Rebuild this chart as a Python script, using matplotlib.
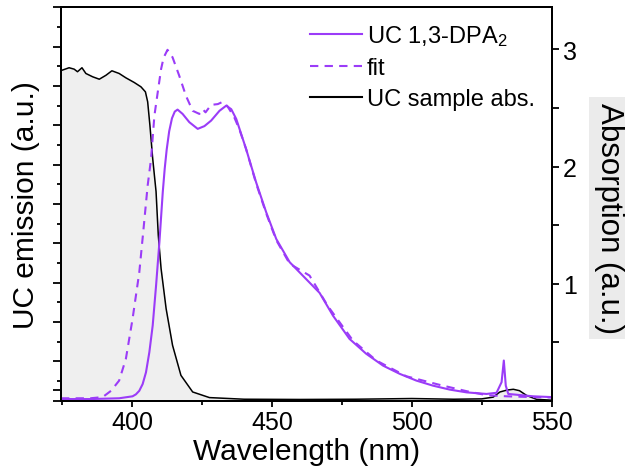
"""UC emission and absorption spectrum, redrawn."""

import matplotlib

matplotlib.use("Agg")
import matplotlib.pyplot as plt
from matplotlib.lines import Line2D

plt.rcParams["font.family"] = ["Liberation Sans", "DejaVu Sans"]
plt.rcParams["mathtext.default"] = "regular"

PURPLE = "#9b3cf8"

# UC emission (normalised, left axis)
em_wl = [374.5, 385, 395.3, 400.1, 401.3, 402.5, 403.7, 404.9, 406.1, 407.3,
         408.5, 409.7, 410.9, 411.6, 412.3, 413.2, 414.2, 415.2, 416.2, 418.0,
         420.4, 423.4, 425.8, 428.2, 431.2, 433.6, 435.4, 437.2, 440.7, 444.3,
         447.9, 451.5, 456.3, 462.2, 467.0, 471.8, 477.7, 483.7, 489.7, 495.7,
         501.6, 507.6, 513.6, 519.6, 526.7, 530.3, 532.1, 532.9, 533.6, 534.5,
         543.4, 550.0]
em_val = [0.004, 0.004, 0.006, 0.011, 0.016, 0.025, 0.042, 0.072, 0.123, 0.191,
          0.292, 0.403, 0.53, 0.59, 0.638, 0.685, 0.718, 0.735, 0.74, 0.729,
          0.708, 0.691, 0.698, 0.712, 0.737, 0.75, 0.741, 0.716, 0.64, 0.555,
          0.479, 0.411, 0.352, 0.309, 0.274, 0.216, 0.157, 0.119, 0.089, 0.068,
          0.051, 0.038, 0.028, 0.021, 0.017, 0.02, 0.047, 0.102, 0.038, 0.017,
          0.011, 0.009]

# fit (left axis)
fit_wl = [374.5, 385, 389.4, 392.4, 395.3, 397.7, 400.1, 402.5, 403.9, 405.5,
          406.7, 407.9, 409.1, 410.3, 411.2, 412.6, 414.4, 416.8, 419.2, 421.6,
          422.8, 424.0, 425.2, 426.2, 428.2, 430.6, 432.4, 434.1, 436.5, 438.3,
          440.7, 444.3, 447.9, 451.5, 456.3, 463.4, 470.0, 478.9, 487.3, 498.0,
          510.0, 519.6, 526.7, 533.9, 543.4, 550.0]
fit_val = [0.006, 0.006, 0.009, 0.025, 0.051, 0.106, 0.208, 0.326, 0.428, 0.547,
           0.614, 0.724, 0.784, 0.843, 0.872, 0.892, 0.873, 0.826, 0.775, 0.737,
           0.733, 0.729, 0.741, 0.733, 0.752, 0.754, 0.76, 0.748, 0.72, 0.69,
           0.64, 0.552, 0.476, 0.408, 0.348, 0.318, 0.24, 0.153, 0.102, 0.062,
           0.04, 0.024, 0.014, 0.011, 0.009, 0.008]

# UC sample absorption (right axis)
abs_wl = [374.3, 377.4, 379.2, 380.4, 382.0, 383.4, 385.8, 388.2, 390.6, 392.7,
          395.3, 397.7, 400.7, 403.1, 404.7, 405.5, 406.3, 407.3, 408.5, 409.3,
          410.3, 412.1, 414.4, 417.4, 421.6, 427.6, 440, 460, 480, 500, 515,
          525, 529.1, 531.5, 534, 536.3, 538.5, 541, 544.6, 550]
abs_val = [2.818, 2.844, 2.832, 2.81, 2.844, 2.795, 2.767, 2.746, 2.78, 2.818,
           2.795, 2.758, 2.718, 2.681, 2.638, 2.553, 2.353, 2.068, 1.786, 1.413,
           1.128, 0.786, 0.473, 0.216, 0.074, 0.026, 0.012, 0.01, 0.012, 0.018,
           0.012, 0.015, 0.03, 0.074, 0.09, 0.097, 0.085, 0.045, 0.011, 0.004]

fig = plt.figure(figsize=(6.25, 4.77), dpi=100)
ax = fig.add_axes([0.0976, 0.158, 0.785, 0.8245])
ax2 = ax.twinx()
ax.set_zorder(ax2.get_zorder() + 1)
ax.patch.set_visible(False)

ax2.fill_between(abs_wl, abs_val, 0, color="#efefef", lw=0)
ax2.plot(abs_wl, abs_val, color="black", lw=1.1)

ax.plot(em_wl, em_val, color=PURPLE, lw=1.5)
ax.plot(fit_wl, fit_val, color=PURPLE, lw=1.5, ls=(0, (4, 3)))

ax.set_xlim(374.5, 550)
ax.set_ylim(0, 1)
ax2.set_ylim(0, 3.36)

ax.set_xticks([400, 450, 500, 550])
ax.set_xticks([375, 425, 475, 525], minor=True)
ax.set_yticks([0, 0.027] + [i / 10 for i in range(1, 11)])
ax.set_yticks([0.05 + i / 10 for i in range(10)], minor=True)
ax.set_yticklabels([])
ax2.set_yticks([1, 2, 3])
ax2.set_yticks([0.5, 1.5, 2.5], minor=True)

for a in (ax, ax2):
    for s in a.spines.values():
        s.set_linewidth(1.4)
ax.tick_params(axis="x", which="major", labelsize=18, length=4, width=1.3, pad=3)
ax.tick_params(axis="x", which="minor", length=3, width=1.3)
ax.tick_params(axis="y", which="major", length=5.5, width=1.3)
ax.tick_params(axis="y", which="minor", length=2.7, width=1.3)
ax2.tick_params(axis="y", which="both", labelsize=18, length=5, width=1.3, pad=3)

ax.set_xlabel("Wavelength (nm)", fontsize=21.5, labelpad=2)
ax.set_ylabel("UC emission (a.u.)", fontsize=21.5, labelpad=6)
fig.text(0.975, 0.541, "Absorption (a.u.)", rotation=270, fontsize=22.5,
         ha="center", va="center",
         bbox=dict(facecolor="#ebebeb", edgecolor="none", pad=4))

handles = [
    Line2D([], [], color=PURPLE, lw=1.5),
    Line2D([], [], color=PURPLE, lw=1.5, ls=(0, (4, 3))),
    Line2D([], [], color="black", lw=1.5),
]
labels = ["UC 1,3-DPA$_2$", "fit", "UC sample abs."]
ax.legend(handles, labels, loc="upper right", bbox_to_anchor=(0.98, 0.978),
          frameon=False, fontsize=17, handlelength=2.2, handletextpad=0.2,
          labelspacing=0.38, borderaxespad=0.1, borderpad=0.2)

fig.savefig("out.png", dpi=100)
